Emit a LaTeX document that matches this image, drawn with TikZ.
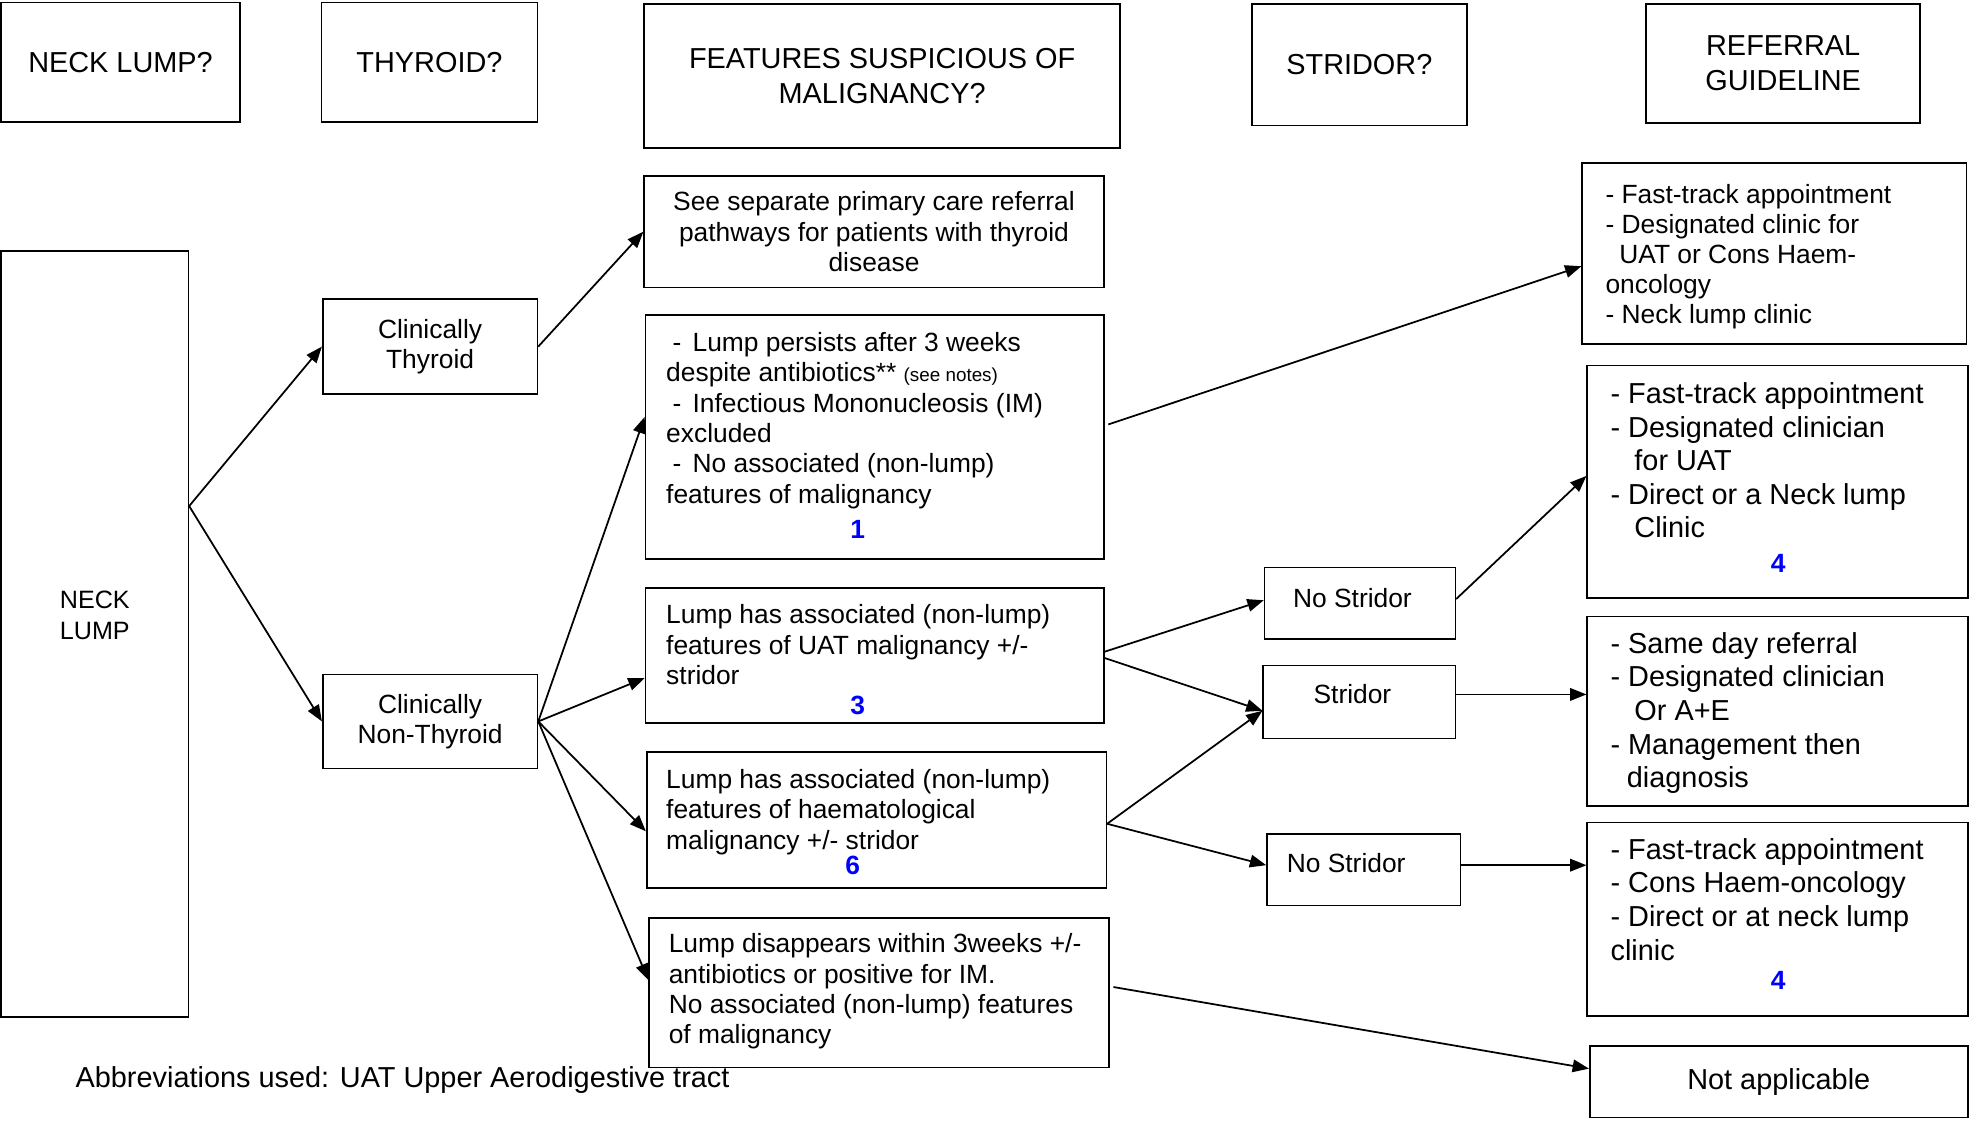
\documentclass[tikz,border=0pt]{standalone}
\usepackage{fontspec}
\setmainfont{Liberation Sans}
\usetikzlibrary{arrows.meta,calc}
\definecolor{numblue}{RGB}{0,0,255}
\newcommand\fHead{\fontsize{23}{28}\selectfont}
\newcommand\fBody{\fontsize{21}{24.2}\selectfont}
\newcommand\fRef{\fontsize{23}{26.8}\selectfont}
\newcommand\fRefA{\fontsize{21}{24}\selectfont}
\newcommand\fSmall{\fontsize{15}{18}\selectfont}
\begin{document}
\begin{tikzpicture}[x=1pt,y=1pt,
  box/.style={draw, line width=1.3pt, inner sep=0pt, rectangle},
  conn/.style={-{Triangle[length=13pt,width=10pt]}, line width=1.4pt},
  txt/.style={inner sep=0pt, align=left, anchor=north west},
  num/.style={inner sep=0pt, text=numblue, font=\fBody\bfseries}]
\useasboundingbox (0,0) rectangle (1568,-893);
% headers
\node[box, minimum width=190pt, minimum height=95pt, font=\fHead] (h1) at (96,-49.5) {NECK LUMP?};
\node[box, minimum width=172pt, minimum height=95pt, font=\fHead] (h2) at (342,-49.5) {THYROID?};
\node[box, minimum width=379pt, minimum height=115pt, font=\fHead, align=center] (h3) at (702.5,-60.5) {FEATURES SUSPICIOUS OF\\MALIGNANCY?};
\node[box, minimum width=171pt, minimum height=97pt, font=\fHead] (h4) at (1082.5,-51.5) {STRIDOR?};
\node[box, minimum width=218pt, minimum height=95pt, font=\fHead, align=center] (h5) at (1420,-50.5) {REFERRAL\\GUIDELINE};
% left column
\node[box, minimum width=149pt, minimum height=610pt] (neck) at (75.5,-505) {};
\node[inner sep=0pt, font=\fontsize{20}{25}\selectfont, align=center] (neckt) at (75.5,-490) {NECK\\LUMP};
\node[box, minimum width=171pt, minimum height=76pt, font=\fBody, align=center] (ct) at (342.5,-276) {Clinically\\Thyroid};
\node[box, minimum width=171pt, minimum height=75pt, font=\fBody, align=center] (cnt) at (342.5,-574.5) {Clinically\\Non-Thyroid};
% features column
\node[box, minimum width=366pt, minimum height=89pt, font=\fBody, align=center] (f0) at (696,-184.5) {See separate primary care referral\\pathways for patients with thyroid\\disease};
\node[box, minimum width=365pt, minimum height=194pt] (f1) at (696.5,-348) {};
\node[box, minimum width=365pt, minimum height=108pt] (f3) at (696.5,-522) {};
\node[box, minimum width=366pt, minimum height=108pt] (f6) at (698,-653) {};
\node[box, minimum width=366pt, minimum height=119pt] (f7) at (700,-790.5) {};
\node[txt, font=\fBody] (f1t) at ($(f1.north west)+(17,-14)$) {\hspace*{5pt}-\hspace*{9pt}Lump persists after 3 weeks\\despite antibiotics** {\fSmall (see notes)}\\\hspace*{5pt}-\hspace*{9pt}Infectious Mononucleosis (IM)\\excluded\\\hspace*{5pt}-\hspace*{9pt}No associated (non-lump)\\features of malignancy};
\node[num] (n1) at (683,-422) {1};
\node[txt, font=\fBody] (f3t) at ($(f3.north west)+(17,-14)$) {Lump has associated (non-lump)\\features of UAT malignancy +/-\\stridor};
\node[num] (n3) at (683,-562) {3};
\node[txt, font=\fBody] (f6t) at ($(f6.north west)+(16,-14)$) {Lump has associated (non-lump)\\features of haematological\\malignancy +/- stridor};
\node[num] (n6) at (679,-689) {6};
\node[txt, font=\fBody] (f7t) at ($(f7.north west)+(16,-13)$) {Lump disappears within 3weeks +/-\\antibiotics or positive for IM.\\No associated (non-lump) features\\of malignancy};
% stridor column
\node[box, minimum width=152pt, minimum height=57pt] (ns1) at (1083,-480.5) {};
\node[box, minimum width=153pt, minimum height=58pt] (st) at (1082.5,-559) {};
\node[box, minimum width=154pt, minimum height=57pt] (ns2) at (1086,-692.5) {};
\node[inner sep=0pt, font=\fBody] (ns1t) at (1077,-476) {No Stridor};
\node[inner sep=0pt, font=\fBody] (stt) at (1077,-553) {Stridor};
\node[inner sep=0pt, font=\fBody] (ns2t) at (1072,-687) {No Stridor};
% referral column
\node[box, minimum width=306pt, minimum height=144pt] (r1) at (1413,-202) {};
\node[box, minimum width=303pt, minimum height=185pt] (r2) at (1415.5,-383.5) {};
\node[box, minimum width=303pt, minimum height=151pt] (r3) at (1415.5,-566.5) {};
\node[box, minimum width=303pt, minimum height=154pt] (r4) at (1415.5,-732) {};
\node[box, minimum width=301pt, minimum height=57pt, font=\fRef] (r5) at (1416.5,-861.5) {Not applicable};
\node[txt, font=\fRefA] (r1t) at ($(r1.north west)+(19,-17)$) {- Fast-track appointment\\- Designated clinic for\\\hspace*{11pt}UAT or Cons Haem-\\oncology\\- Neck lump clinic};
\node[txt, font=\fRef] (r2t) at ($(r2.north west)+(19,-14)$) {- Fast-track appointment\\- Designated clinician\\\hspace*{19pt}for UAT\\- Direct or a Neck lump\\\hspace*{19pt}Clinic};
\node[num] (n4a) at (1416,-449) {4};
\node[txt, font=\fRef] (r3t) at ($(r3.north west)+(19,-13)$) {- Same day referral\\- Designated clinician\\\hspace*{19pt}Or A+E\\- Management then\\\hspace*{13pt}diagnosis};
\node[txt, font=\fRef] (r4t) at ($(r4.north west)+(19,-13)$) {- Fast-track appointment\\- Cons Haem-oncology\\- Direct or at neck lump\\clinic};
\node[num] (n4b) at (1416,-781) {4};
\node[inner sep=0pt, anchor=west, font=\fHead] (abbr) at (60,-860) {Abbreviations used: UAT Upper Aerodigestive tract};
% connectors
\coordinate (nk) at ($(neck.east)+(0,102)$);
\draw[conn] (nk) -- (ct.west);
\draw[conn] (nk) -- (cnt.west);
\draw[conn] (ct.east) -- (f0.west);
\draw[conn] (cnt.east) -- ($(f1.west)+(0,16)$);
\draw[conn] (cnt.east) -- ($(f3.west)+(0,-18)$);
\draw[conn] (cnt.east) -- ($(f6.west)+(0,-9)$);
\draw[conn] (cnt.east) -- ($(f7.west)+(0,10)$);
\draw[conn] ($(f1.east)+(3,10)$) -- ($(r1.west)+(0,-10)$);
\draw[conn] ($(f3.east)+(0,3)$) -- ($(ns1.west)+(0,2.5)$);
\draw[conn] ($(f3.east)+(0,-2)$) -- ($(st.west)+(0,-7)$);
\draw[conn] ($(f6.east)+(0,-3)$) -- ($(st.west)+(0,-7)$);
\draw[conn] ($(f6.east)+(0,-3)$) -- ($(ns2.west)+(0,3.5)$);
\draw[conn] ($(ns1.east)+(0,3.5)$) -- ($(r2.west)+(0,4.5)$);
\draw[conn] ($(st.east)+(0,6)$) -- ($(r3.west)+(0,13.5)$);
\draw[conn] ($(ns2.east)+(0,3.5)$) -- ($(r4.west)+(0,43)$);
\draw[conn] ($(f7.east)+(3,4.5)$) -- ($(r5.west)+(0,10.5)$);
\end{tikzpicture}
\end{document}
